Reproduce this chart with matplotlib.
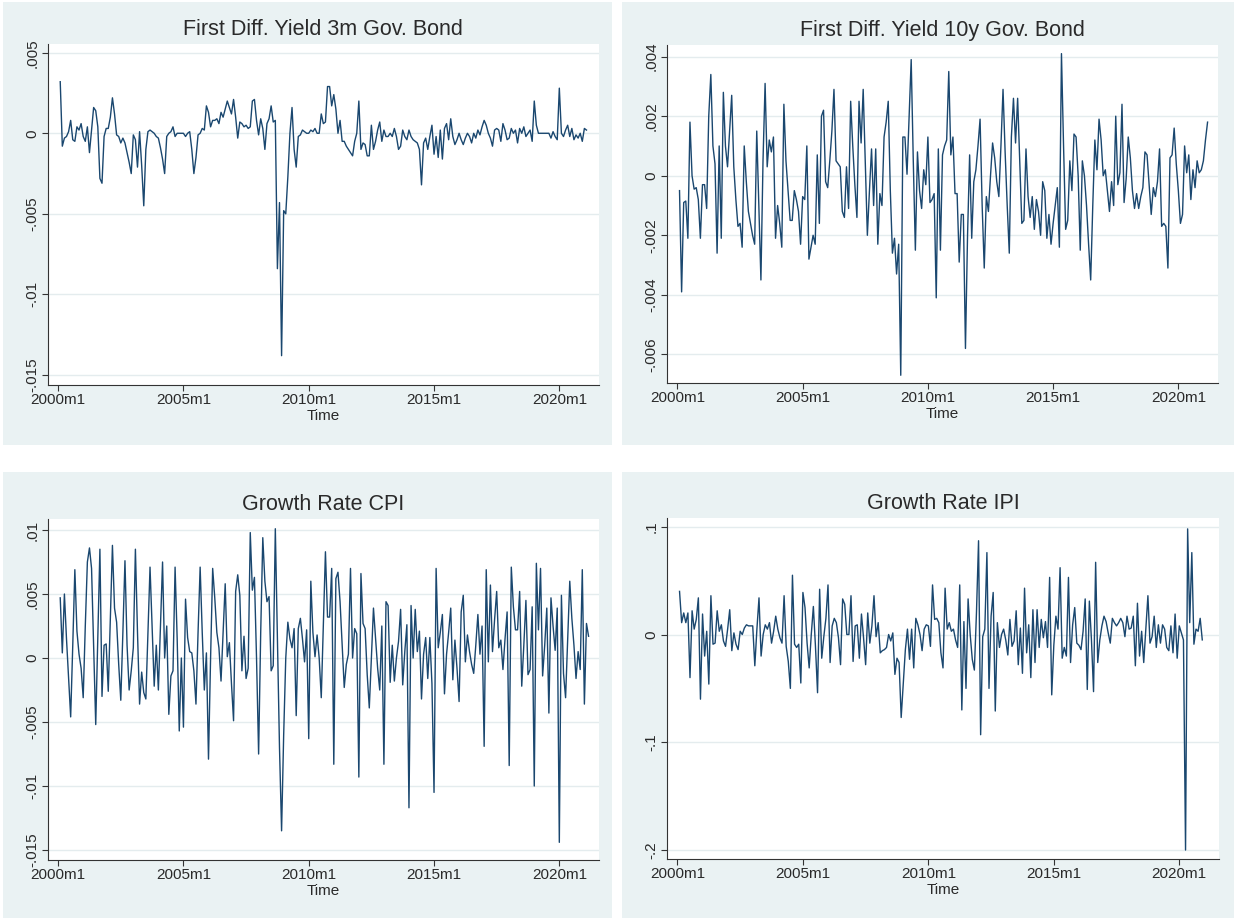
import numpy as np
import matplotlib
matplotlib.use("Agg")
import matplotlib.pyplot as plt
from matplotlib.patches import Rectangle

plt.rcParams['font.family'] = ['Liberation Sans', 'DejaVu Sans']

# monthly series starting 2000m2 (one row per calendar year)
# first difference of 3m yield, read in thousandths
d3m = [
    3.2, -0.8, -0.3, -0.2, 0.1, 0.8, -0.4, -0.5, 0.4, 0.2, 0.6,
    -0.2, -0.5, 0.4, -1.2, 0.2, 1.6, 1.4, 0.4, -2.8, -3.1, -0.2, 0.3,
    0.3, 1.0, 2.2, 1.2, -0.1, -0.2, -0.6, -0.3, -0.6, -1.2, -1.8, -2.5,
    -0.1, -0.4, -2.1, 0.1, -2.0, -4.5, -1.0, 0.1, 0.2, 0.1, 0.0, -0.2,
    -0.3, -0.9, -1.6, -2.5, -0.2, 0.0, 0.1, 0.4, -0.2, 0.0, 0.0, 0.0,
    0.0, -0.2, 0.0, 0.1, -1.0, -2.5, -1.5, -0.1, 0.0, 0.3, 0.2, 1.7,
    1.3, 0.4, 0.8, 0.8, 0.9, 0.6, 1.3, 1.0, 1.5, 2.0, 1.6, 1.2,
    2.1, 1.0, -0.3, 0.7, 0.6, 0.4, 0.5, 0.3, 0.4, 2.0, 2.1, 0.8,
    -0.1, 0.9, 0.3, -1.0, 0.6, 0.9, 1.7, 0.7, 0.8, -8.4, -4.3, -13.8,
    -4.8, -5.0, -2.7, 0.0, 1.6, -1.0, -2.1, -0.2, -0.1, 0.2, 0.1, 0.0,
    0.0, 0.2, 0.1, 0.3, 0.0, 0.0, 1.2, 0.6, 0.7, 2.9, 2.9, 1.7,
    2.4, 1.5, 0.0, 0.8, -0.5, -0.5, -0.8, -1.0, -1.2, -1.4, -0.5, 0.0,
    2.0, -1.0, -0.6, -0.7, -1.4, -1.4, 0.5, -1.0, -0.5, 0.2, 0.7, -0.5,
    0.2, -0.2, -0.2, 0.0, -0.2, 0.3, -0.2, -1.0, -0.8, 0.2, -0.2, -0.4,
    0.2, -0.2, -0.4, -0.5, -0.6, -1.0, -3.2, -0.6, -0.3, -1.0, -0.2, 0.5,
    -1.3, -0.2, -1.5, 0.2, -1.6, 0.3, 0.6, -0.4, 0.9, -0.2, -0.7, -0.4,
    0.0, -0.4, -0.7, -0.3, 0.0, -0.2, -0.6, 0.0, -0.3, 0.2, -0.1, 0.4,
    0.8, 0.5, 0.0, -0.3, -0.8, 0.2, 0.3, 0.2, -0.5, 0.6, 0.2, -0.4,
    -0.3, 0.3, 0.0, 0.2, -0.6, 0.3, 0.0, 0.4, -0.2, 0.0, 0.2, -0.5,
    2.0, 0.5, 0.0, 0.0, 0.0, 0.0, 0.0, 0.0, -0.3, 0.1, -0.2, -0.4,
    2.8, 0.0, -0.2, 0.2, 0.5, -0.2, 0.3, -0.4, -0.1, -0.3, 0.0, -0.5,
    0.3, 0.2,
]

# first difference of 10y yield, thousandths
d10y = [
    -0.5, -3.9, -0.9, -0.85, -2.1, 1.8, 0.0, -0.45, -0.4, -0.8, -2.1,
    -0.3, -0.3, -1.1, 2.0, 3.4, 1.0, 0.4, -2.6, 1.0, -2.1, 2.8, 1.0,
    0.3, 1.5, 2.7, 0.3, -0.8, -1.7, -1.6, -2.4, 1.0, -0.2, -1.2, -1.6,
    -2.0, -2.3, 1.5, -1.0, -3.5, 0.5, 3.1, 0.3, 1.2, 0.8, 1.3, -2.1,
    -1.0, -1.6, -2.4, 2.4, 0.5, -0.5, -1.5, -1.5, -0.5, -0.8, -1.2, -2.3,
    -0.7, -0.8, 1.0, -2.8, -2.4, -2.0, -2.3, 0.7, -1.6, 2.0, 2.2, -0.2,
    -0.4, 0.5, 1.5, 2.9, 0.5, 0.4, 0.3, -1.2, -1.4, 0.3, -1.1, 2.5,
    1.0, -0.3, -1.4, 2.5, 1.1, 2.9, 0.5, -2.0, -0.5, 0.9, -1.0, 0.9,
    -2.3, -0.6, -1.0, 1.3, 1.8, 2.5, -0.5, -2.6, -2.1, -3.3, -2.3, -6.7,
    1.3, 1.3, 0.05, 2.0, 3.9, 0.5, -2.5, 0.8, -0.5, -1.1, 0.2, -0.3,
    1.3, -0.9, -0.8, -0.6, -4.1, 0.9, -2.5, 0.7, 1.0, 1.2, 3.5, 0.7,
    1.3, -0.6, -0.6, -2.9, -1.3, -1.3, -5.8, -2.0, 0.7, -2.1, -0.2, 0.2,
    1.0, 1.9, -1.0, -3.1, -0.7, -1.2, 0.0, 1.1, 0.6, -0.2, -0.7, 1.0,
    2.9, 0.8, -1.0, -2.6, 1.3, 2.6, 1.1, 2.6, 0.5, -1.6, -1.5, 0.9,
    -0.7, -1.4, -0.7, -1.8, -0.8, -1.2, -2.0, -0.2, -0.5, -2.1, -1.3, -2.3,
    -1.6, -1.0, -0.4, -2.4, 4.1, 1.0, -1.8, -1.5, 0.5, -0.5, 1.4, 1.3,
    0.0, -2.5, 0.5, 0.0, -1.0, -2.3, -3.5, -1.0, 1.2, 0.2, 1.9, 1.2,
    0.0, 0.2, -0.5, -1.2, -0.2, -1.0, 2.0, -0.3, 0.1, 2.4, -0.9, -0.1,
    1.3, 0.6, -0.5, -1.1, -0.6, -1.1, -0.7, -0.4, 0.8, 0.7, -0.3, -1.3,
    -0.4, -0.7, -0.2, 0.9, -1.7, -1.6, -1.7, -3.1, 0.6, 0.7, 1.6, 0.4,
    -0.5, -1.6, -1.3, 1.0, 0.1, 0.7, -0.8, 0.2, -0.4, 0.5, 0.1, 0.2,
    0.5, 1.2, 1.8,
]

# CPI growth rate, thousandths
cpi = [
    4.7, 0.4, 5.0, 1.5, -1.5, -4.6, 1.0, 6.9, 2.1, 0.3, -0.8,
    -3.1, 2.5, 7.5, 8.6, 7.0, 1.0, -5.2, 1.5, 8.5, -3.0, 1.0, 1.1,
    -2.6, 3.0, 8.8, 3.9, 2.8, -0.5, -3.3, 2.0, 7.6, 1.0, -2.5, -1.0,
    0.8, 8.5, 2.0, -3.6, -1.1, -2.7, -3.2, 2.0, 7.1, 2.5, -2.2, 1.0,
    -2.5, 2.5, 7.5, 0.0, 2.5, -4.4, -1.4, -1.0, 7.1, 1.5, -5.7, 0.0,
    -5.4, 4.6, 1.6, 0.5, 0.4, -1.0, -3.6, 2.0, 7.1, 2.0, -2.5, 0.4,
    -7.9, 0.0, 7.0, 4.7, 2.0, 0.8, -1.8, 2.0, 5.8, 0.1, 1.2, -2.0,
    -4.9, 5.2, 6.5, 4.9, -1.0, 1.7, -1.6, -0.8, 9.8, 5.3, 6.3, 0.0,
    -7.5, 2.0, 9.4, 6.0, 4.4, 4.8, -1.0, -0.6, 10.1, 1.5, -7.0, -13.5,
    -6.0, 0.0, 2.8, 1.5, 0.8, 2.3, -4.5, 2.3, 3.1, 1.5, -0.3, 2.2,
    -6.3, 6.0, 2.0, 0.1, 1.8, 0.0, -3.1, 2.5, 8.3, 3.2, 3.2, 7.0,
    -8.3, 6.2, 6.7, 4.4, 1.0, -2.3, -0.5, 0.3, 7.0, 0.0, 2.3, 1.9,
    -9.3, 6.6, 2.7, 2.3, -1.3, -3.9, 0.0, 3.9, 1.5, -0.8, -2.5, 2.5,
    -8.3, 4.4, 4.1, -1.9, 1.0, -1.8, 0.0, 1.3, 3.8, -2.1, 0.5, 2.6,
    -11.7, 4.1, 0.0, 3.8, 0.5, 2.1, -3.2, 0.3, 1.6, -1.6, 1.6, -2.0,
    -10.5, 7.0, 0.8, 2.0, 3.4, -2.8, 0.3, 2.0, 3.9, -1.7, 1.4, -0.8,
    -3.4, 3.6, 4.9, -0.3, 1.8, 0.5, -0.5, -1.2, 1.0, 3.4, 0.3, 2.5,
    -6.9, 6.9, -0.3, 5.7, 0.5, 3.0, 5.2, 0.8, 1.4, -0.9, 1.5, 3.6,
    -8.4, 7.1, 4.0, 2.2, 2.2, 5.2, -2.2, 1.0, 4.5, -1.3, -0.9, 4.0,
    -10.0, 7.4, 2.2, 7.0, -1.4, 1.0, 3.9, -4.3, 4.7, 2.5, 0.6, 3.9,
    -14.4, 4.9, -1.2, -3.1, 1.5, 6.0, 3.1, 1.0, -1.6, 0.5, -0.9, 6.9,
    -3.6, 2.7, 1.7,
]

# IPI growth rate, hundredths
ipi = [
    4.0, 1.1, 2.0, 1.1, 2.0, -4.0, 2.2, 0.5, 1.4, 3.4, -6.0,
    1.9, -2.0, 0.3, -4.6, 3.6, -0.9, -0.8, 2.2, 0.3, 0.9, -0.6, -1.1,
    0.5, 2.3, -1.5, 0.15, -0.9, -1.4, 0.3, 0.0, 0.6, 0.9, 0.8, 0.8,
    0.8, -2.9, 0.5, 3.4, -2.0, 0.0, 0.9, 0.5, 1.1, -0.8, 0.3, 1.7,
    0.5, -0.3, -0.8, 3.6, -1.1, -2.5, -5.0, 5.5, -0.9, -1.2, -0.9, -4.5,
    3.9, 2.5, -0.8, -3.1, 0.0, 2.6, -1.1, -5.4, 4.2, -2.2, -0.2, 1.5,
    4.6, -2.6, 0.8, 1.5, 1.1, -0.3, -2.8, 3.3, 2.8, 0.0, 0.0, 3.6,
    -2.5, 0.8, 0.9, -2.2, 1.9, -0.3, -2.8, 2.0, -0.8, 0.8, 3.6, -0.2,
    1.1, -1.7, -1.5, -1.4, -1.2, 0.0, -0.6, 0.15, -3.7, -2.2, -2.6, -7.7,
    -4.5, -1.4, 0.5, -2.3, 0.5, -3.1, 1.5, 0.9, 0.0, -1.5, 0.5, 0.9,
    0.8, -1.1, 4.6, 1.4, 1.5, 1.1, -1.7, -3.1, 4.3, 0.5, 1.1, 0.3,
    0.5, -0.5, -1.2, 4.6, -7.0, 1.2, -5.0, 3.3, 0.0, -2.3, -3.3, 2.0,
    8.7, -9.3, -0.2, 0.5, 7.6, -5.0, 1.7, 3.9, -7.1, 1.1, -1.2, 0.0,
    0.5, -0.5, -1.9, 1.4, -1.1, -0.6, 2.2, -2.8, 0.6, -3.6, 4.3, -1.7,
    0.9, -4.0, 2.3, -2.6, 2.3, -1.2, 1.4, -0.3, 1.2, -1.2, 5.3, -5.6,
    -1.0, 1.7, 0.5, 6.2, -2.2, -1.2, -2.0, 5.3, -2.6, 0.9, 2.5, -0.8,
    -1.0, -1.4, 0.3, 3.3, -5.1, 3.1, -0.5, -5.3, 6.7, -2.6, -0.5, 0.8,
    1.7, 1.2, 0.15, -0.8, 1.5, 1.1, 0.8, 1.1, 1.5, 1.1, -0.2, 1.7,
    0.5, 0.6, 1.7, -2.9, 2.9, -2.0, 0.3, -2.6, 0.5, 3.6, -0.8, -0.2,
    1.7, -1.2, 0.9, -0.8, 0.9, 0.5, -1.2, -1.5, 0.8, -1.7, 1.9, -2.2,
    0.8, 0.15, -0.5, -20.0, 9.8, 1.1, 7.6, -0.9, 0.5, 0.3, 1.5, -0.5,
]

titles = ['First Diff. Yield 3m Gov. Bond', 'First Diff. Yield 10y Gov. Bond',
          'Growth Rate CPI', 'Growth Rate IPI']

xtick_pos = [0, 60, 120, 180, 240]   # months since 2000m1
xtick_lab = ['2000m1', '2005m1', '2010m1', '2015m1', '2020m1']

yt_3m = [5, 0, -5, -10, -15]
yl_3m = ['.005', '0', '-.005', '-.01', '-.015']
yt_10y = [4, 2, 0, -2, -4, -6]
yl_10y = ['.004', '.002', '0', '-.002', '-.004', '-.006']
yt_cpi = [10, 5, 0, -5, -10, -15]
yl_cpi = ['.01', '.005', '0', '-.005', '-.01', '-.015']
yt_ipi = [10, 0, -10, -20]
yl_ipi = ['.1', '0', '-.1', '-.2']

W, H = 1237, 921
BG = '#eaf2f3'
NAVY = '#1a476f'
GRID = '#e4ecee'
INK = '#2a2a2a'


def box(l, t, r, b):
    return [l / W, 1 - b / H, (r - l) / W, (b - t) / H]


fig = plt.figure(figsize=(W / 100, H / 100), dpi=100, facecolor='white')

# light bluish graph regions behind each panel
for l, t, r, b in [(3, 2, 612, 445), (622, 2, 1234, 445),
                   (3, 472, 612, 918), (622, 472, 1234, 918)]:
    fig.patches.append(Rectangle((l / W, 1 - b / H), (r - l) / W, (b - t) / H,
                                 transform=fig.transFigure, facecolor=BG,
                                 edgecolor='none', zorder=-10))

panels = [
    (box(47.7, 44, 599, 385), d3m, titles[0], yt_3m, yl_3m, (-15.62, 5.54)),
    (box(667, 45, 1218, 383), d10y, titles[1], yt_10y, yl_10y, (-6.96, 4.39)),
    (box(47.7, 519, 599, 860), cpi, titles[2], yt_cpi, yl_cpi, (-15.78, 10.86)),
    (box(667, 518, 1219, 859), ipi, titles[3], yt_ipi, yl_ipi, (-20.83, 10.81)),
]

for rect, vals, title, yt, yl, ylim in panels:
    ax = fig.add_axes(rect)
    ax.set_zorder(1)
    ax.set_facecolor('white')
    x = np.arange(1, len(vals) + 1)
    ax.plot(x, vals, color=NAVY, lw=1.0, zorder=3)
    ax.set_xlim(-5, 259)
    ax.set_ylim(ylim)
    ax.set_xticks(xtick_pos, xtick_lab)
    ax.set_yticks(yt, yl, rotation=90, va='center')
    ax.yaxis.grid(True, color=GRID, lw=1.0)
    ax.set_axisbelow(True)
    for s in ['top', 'right']:
        ax.spines[s].set_visible(False)
    for s in ['left', 'bottom']:
        ax.spines[s].set_color('#333333')
        ax.spines[s].set_linewidth(0.8)
    ax.tick_params(length=4, width=0.8, color='#333333', labelsize=11,
                   labelcolor=INK, pad=2)
    ax.set_xlabel('Time', fontsize=11, color=INK, labelpad=1)
    ax.set_title(title, fontsize=15.5, color=INK, pad=6.5)

fig.savefig('out.png', dpi=100, facecolor='white')
